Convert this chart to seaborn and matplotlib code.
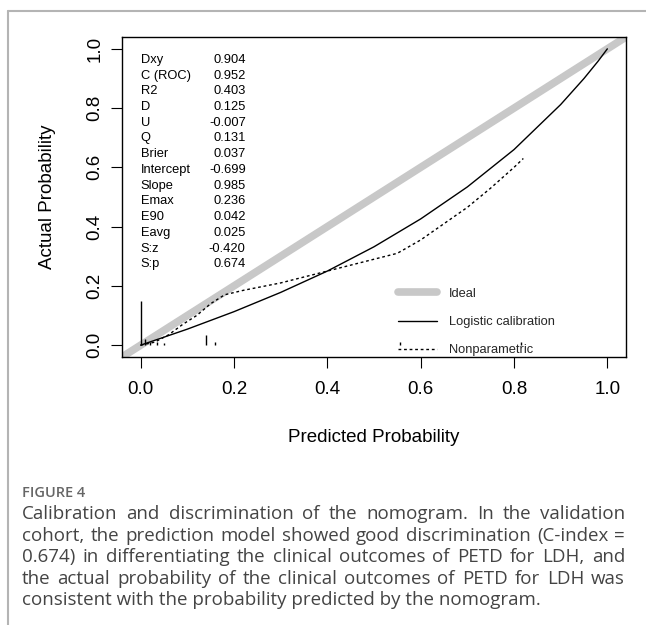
#!/usr/bin/env python3
"""Calibration plot of the nomogram (validation cohort), val.prob style."""
import matplotlib

matplotlib.use("Agg")
import matplotlib.pyplot as plt
from matplotlib.lines import Line2D
import pandas as pd
import seaborn as sns

# statistics block printed in the upper-left corner
STAT_NAMES = ["Dxy", "C (ROC)", "R2", "D", "U", "Q", "Brier", "Intercept",
              "Slope", "Emax", "E90", "Eavg", "S:z", "S:p"]
STAT_VALUES = ["0.904", "0.952", "0.403", "0.125", "-0.007", "0.131", "0.037",
               "-0.699", "0.985", "0.236", "0.042", "0.025", "-0.420", "0.674"]

# logistic calibration curve
LOGISTIC_X = [0.0, 0.05, 0.1, 0.2, 0.3, 0.4, 0.5, 0.6, 0.7, 0.8, 0.9, 0.95, 0.98, 1.0]
LOGISTIC_Y = [0.0, 0.027, 0.054, 0.113, 0.178, 0.25, 0.332, 0.426, 0.534, 0.66,
              0.812, 0.9, 0.958, 1.0]

# nonparametric (loess) calibration curve
NONPAR_X = [0.0, 0.03, 0.06, 0.09, 0.12, 0.15, 0.18, 0.22, 0.3, 0.4, 0.5, 0.55,
            0.6, 0.65, 0.7, 0.75, 0.8, 0.82]
NONPAR_Y = [0.0, 0.01, 0.035, 0.07, 0.1, 0.14, 0.17, 0.185, 0.21, 0.25, 0.29, 0.31,
            0.355, 0.41, 0.465, 0.53, 0.6, 0.63]

# spike histogram of predicted probabilities along the bottom
SPIKE_X = [0.0, 0.01, 0.02, 0.035, 0.05, 0.14, 0.16, 0.555, 0.815]
SPIKE_H = [0.15, 0.02, 0.01, 0.012, 0.008, 0.035, 0.01, 0.01, 0.01]

TICKS = [0.0, 0.2, 0.4, 0.6, 0.8, 1.0]
TICK_LABELS = ["0.0", "0.2", "0.4", "0.6", "0.8", "1.0"]

LEGEND_LABELS = ["Ideal", "Logistic calibration", "Nonparametric"]

CAPTION_HEAD = "FIGURE 4"
CAPTION_LINES = [
    "Calibration and discrimination of the nomogram. In the validation",
    "cohort, the prediction model showed good discrimination (C-index =",
    "0.674) in differentiating the clinical outcomes of PETD for LDH, and",
    "the actual probability of the clinical outcomes of PETD for LDH was",
    "consistent with the probability predicted by the nomogram.",
]

W, H = 646, 625

sns.set_theme(style="ticks")
plt.rcParams["font.family"] = ["Liberation Sans", "DejaVu Sans"]

fig = plt.figure(figsize=(W / 100, H / 100), dpi=100)
ax = fig.add_axes([122 / W, 1 - 357 / H, 504 / W, 320 / H])

# ideal line y = x
ax.axline((0, 0), slope=1, color="#c8c8c8", lw=5.5, solid_capstyle="butt", zorder=1)

curves = pd.concat([
    pd.DataFrame({"x": LOGISTIC_X, "y": LOGISTIC_Y, "curve": "Logistic calibration"}),
    pd.DataFrame({"x": NONPAR_X, "y": NONPAR_Y, "curve": "Nonparametric"}),
], ignore_index=True)

sns.lineplot(data=curves[curves["curve"] == "Logistic calibration"], x="x", y="y",
             color="black", lw=1.0, estimator=None, sort=False, ax=ax, zorder=3)
sns.lineplot(data=curves[curves["curve"] == "Nonparametric"], x="x", y="y",
             color="black", lw=1.0, linestyle=(0, (2, 2)), estimator=None,
             sort=False, ax=ax, zorder=3)

ax.vlines(SPIKE_X, 0, SPIKE_H, color="black", lw=1.0, zorder=3)

# stats block
for i, (name, val) in enumerate(zip(STAT_NAMES, STAT_VALUES)):
    y = 0.963 - i * 0.0531
    ax.text(0.0, y, name, fontsize=9.3, va="center", ha="left", color="black")
    ax.text(0.225, y, val, fontsize=9.3, va="center", ha="right", color="black")

handles = [
    Line2D([], [], color="#c8c8c8", lw=5.5, solid_capstyle="round"),
    Line2D([], [], color="black", lw=1.0),
    Line2D([], [], color="black", lw=1.0, linestyle=(0, (2, 2))),
]
ax.legend(handles, LEGEND_LABELS, loc="center left", bbox_to_anchor=(0.548, 0.109),
          frameon=False, fontsize=9.3, handlelength=3.0, handletextpad=0.9,
          labelspacing=1.25, borderpad=0, borderaxespad=0)

ax.set_xlim(-0.04, 1.04)
ax.set_ylim(-0.04, 1.04)
ax.set_xticks(TICKS, TICK_LABELS)
ax.set_yticks(TICKS, TICK_LABELS)
ax.tick_params(direction="out", length=8, width=0.8, color="black",
               labelsize=13.5, labelcolor="black")
ax.tick_params(axis="x", pad=9)
ax.tick_params(axis="y", pad=11.5)
for lab in ax.get_yticklabels():
    lab.set_rotation(90)
    lab.set_ha("center")
    lab.set_va("center")
for sp in ax.spines.values():
    sp.set_color("black")
    sp.set_linewidth(1.0)

ax.set_xlabel("Predicted Probability", fontsize=13.5, color="black")
ax.set_ylabel("Actual Probability", fontsize=13.5, color="black")
ax.xaxis.set_label_coords(0.5, -0.225)
ax.yaxis.set_label_coords(-0.13, 0.5)

# page frame lines
fig.add_artist(Line2D([8 / W, 8 / W], [0, 1 - 11 / H], transform=fig.transFigure,
                      color="#b4b4b4", lw=1.5))
fig.add_artist(Line2D([8 / W, 1], [1 - 11 / H, 1 - 11 / H], transform=fig.transFigure,
                      color="#b4b4b4", lw=1.5))

# caption, justified between left and right margins
cap_font = dict(family=["Open Sans", "DejaVu Sans"], fontsize=13.5, color="#444444",
                va="center")
left, right = 22 / W, 625 / W
fig.text(left, 1 - 493 / H, CAPTION_HEAD, family=["Open Sans", "DejaVu Sans"],
         fontsize=10.5, color="#666666", fontweight="semibold", va="center")
renderer = fig.canvas.get_renderer()
line_y = [514, 536, 557, 579, 600]
for line, yp in zip(CAPTION_LINES, line_y):
    y = 1 - yp / H
    if line is CAPTION_LINES[-1]:
        fig.text(left, y, line, ha="left", **cap_font)
        continue
    words = line.split()
    texts = [fig.text(0, y, w, ha="left", **cap_font) for w in words]
    widths = [t.get_window_extent(renderer).width / W for t in texts]
    gap = (right - left - sum(widths)) / (len(words) - 1)
    x = left
    for t, w in zip(texts, widths):
        t.set_x(x)
        x += w + gap

fig.savefig("out.png", dpi=100)
